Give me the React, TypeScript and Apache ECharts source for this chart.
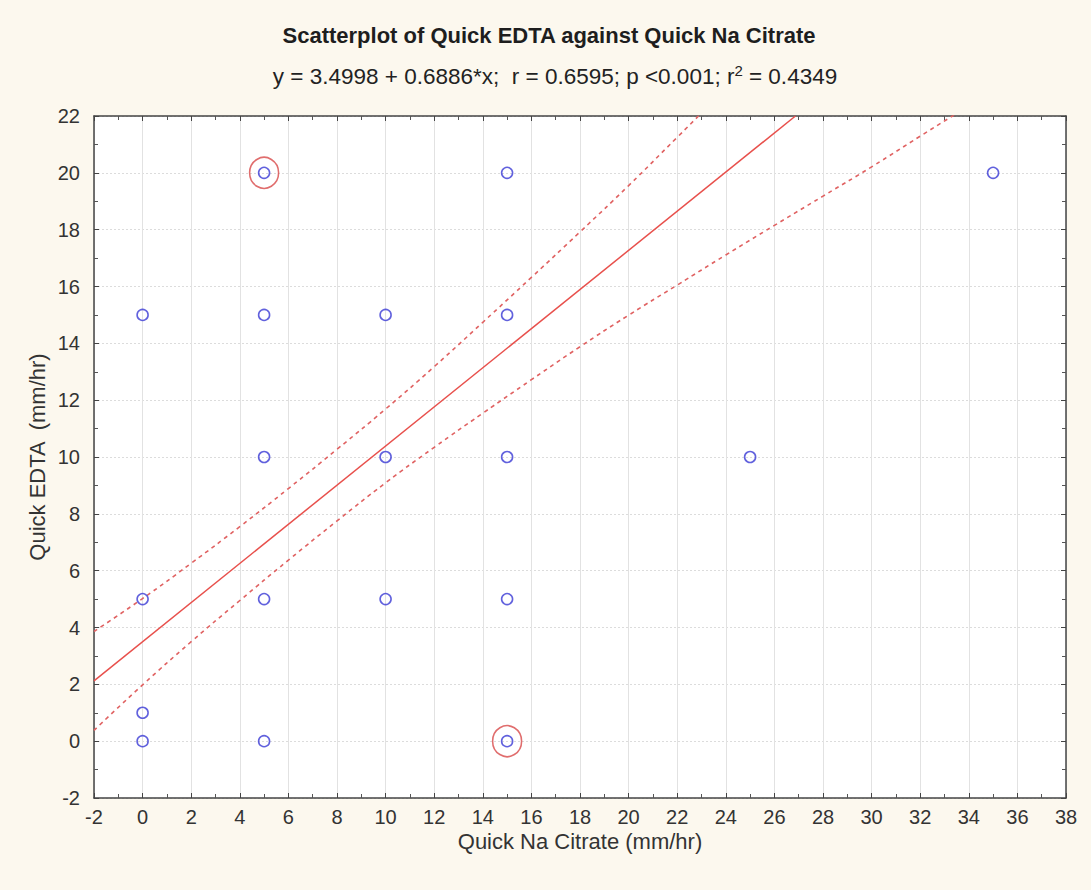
import React, { useEffect, useRef } from "react";
import * as echarts from "echarts";

// Observed pairs (Quick Na Citrate, Quick EDTA), mm/hr
const citrate = [0, 0, 0, 0, 5, 5, 5, 5, 5, 10, 10, 10, 15, 15, 15, 15, 15, 25, 35];
const edta = [0, 1, 5, 15, 0, 5, 10, 15, 20, 5, 10, 15, 0, 5, 10, 15, 20, 10, 20];

// Points circled as outliers
const flaggedX = [5, 15];
const flaggedY = [20, 0];

// Fitted regression y = a + b*x
const intercept = 3.4998;
const slope = 0.6886;

// 95% confidence band for the fitted line
const bandX = [-2, 0, 2, 4, 6, 8, 10, 12, 14, 16, 18, 20, 22, 24, 26, 28, 30, 32, 34];
const bandUpper = [3.86, 5.02, 6.26, 7.55, 8.89, 10.27, 11.69, 13.18, 14.74, 16.32, 17.92, 19.55, 21.25, 22.95, 24.6, 26.3, 28.1, 29.8, 31.5];
const bandLower = [0.38, 1.98, 3.5, 4.95, 6.37, 7.75, 9.09, 10.34, 11.54, 12.72, 13.88, 14.99, 16.05, 17.11, 18.15, 19.18, 20.21, 21.29, 22.36];

const xMin = -2;
const xMax = 38;
const yMin = -2;
const yMax = 22;

const FONT = "Liberation Sans, Arial, sans-serif";

export default function App() {
  const ref = useRef<HTMLDivElement>(null);

  useEffect(() => {
    document.body.style.margin = "0";
    if (!ref.current) return;
    const chart = echarts.init(ref.current, null, { renderer: "svg" });

    const fitEndX = (yMax - intercept) / slope;
    const fitLine = [
      [xMin, intercept + slope * xMin],
      [fitEndX, intercept + slope * fitEndX],
    ];

    const frameLine = { show: true, onZero: false, lineStyle: { color: "#444", width: 1.5 } };
    const innerTicks = { show: true, inside: true, length: 5, lineStyle: { color: "#444", width: 1 } };
    const innerMinor = { show: true, splitNumber: 2, length: 4, lineStyle: { color: "#555", width: 1 } };

    chart.setOption({
      animation: false,
      backgroundColor: "#fcf8ee",
      title: [
        {
          text: "Scatterplot of Quick EDTA against Quick Na Citrate",
          left: 544,
          textAlign: "center",
          top: 19,
          textStyle: { fontFamily: FONT, fontSize: 22, fontWeight: "bold", color: "#1e1e1e" },
        },
        {
          text: "y = 3.4998 + 0.6886*x;  r = 0.6595; p <0.001; r{sup|2} = 0.4349",
          left: 550,
          textAlign: "center",
          top: 58,
          textStyle: {
            fontFamily: FONT,
            fontSize: 22.5,
            fontWeight: "normal",
            color: "#222",
            rich: {
              sup: {
                fontFamily: FONT,
                fontSize: 15,
                fontWeight: "normal",
                color: "#222",
                verticalAlign: "top",
                padding: [0, 0, 11, 0],
              },
            },
          },
        },
      ],
      grid: {
        left: 94,
        right: 25,
        top: 116,
        bottom: 92,
        show: true,
        backgroundColor: "#ffffff",
        borderWidth: 0,
      },
      xAxis: [
        {
          type: "value",
          min: xMin,
          max: xMax,
          interval: 2,
          position: "bottom",
          name: "Quick Na Citrate (mm/hr)",
          nameLocation: "middle",
          nameGap: 32,
          nameMoveOverlap: false,
          nameTextStyle: { fontFamily: FONT, fontSize: 22, color: "#333" },
          axisLine: frameLine,
          axisTick: innerTicks,
          minorTick: innerMinor,
          axisLabel: { fontFamily: FONT, fontSize: 20, color: "#333", margin: 9 },
          splitLine: { show: true, lineStyle: { color: "#e2e2e2", width: 1 } },
        },
        {
          type: "value",
          min: xMin,
          max: xMax,
          interval: 2,
          position: "top",
          axisLine: frameLine,
          axisTick: innerTicks,
          minorTick: innerMinor,
          axisLabel: { show: false },
          splitLine: { show: false },
        },
      ],
      yAxis: [
        {
          type: "value",
          min: yMin,
          max: yMax,
          interval: 2,
          position: "left",
          name: "Quick EDTA  (mm/hr)",
          nameLocation: "middle",
          nameGap: 46,
          nameMoveOverlap: false,
          nameRotate: 90,
          nameTextStyle: { fontFamily: FONT, fontSize: 22, color: "#333" },
          axisLine: frameLine,
          axisTick: innerTicks,
          minorTick: innerMinor,
          axisLabel: { fontFamily: FONT, fontSize: 20, color: "#333", margin: 14 },
          splitLine: { show: true, lineStyle: { color: "#dcdcdc", width: 1, type: [2, 2] } },
        },
        {
          type: "value",
          min: yMin,
          max: yMax,
          interval: 2,
          position: "right",
          axisLine: frameLine,
          axisTick: innerTicks,
          minorTick: innerMinor,
          axisLabel: { show: false },
          splitLine: { show: false },
        },
      ],
      series: [
        {
          name: "upper",
          type: "line",
          data: bandX.map((x, i) => [x, bandUpper[i]]),
          smooth: true,
          showSymbol: false,
          clip: true,
          lineStyle: { color: "#e06262", width: 1.6, type: [4, 4] },
          z: 3,
        },
        {
          name: "lower",
          type: "line",
          data: bandX.map((x, i) => [x, bandLower[i]]),
          smooth: true,
          showSymbol: false,
          clip: true,
          lineStyle: { color: "#e06262", width: 1.6, type: [4, 4] },
          z: 3,
        },
        {
          name: "fit",
          type: "line",
          data: fitLine,
          showSymbol: false,
          clip: true,
          lineStyle: { color: "#e8504c", width: 1.5 },
          z: 4,
        },
        {
          name: "points",
          type: "scatter",
          data: citrate.map((x, i) => [x, edta[i]]),
          symbol: "circle",
          symbolSize: 11,
          itemStyle: { color: "rgba(255,255,255,0)", borderColor: "#3a3ad4", borderWidth: 1.6 },
          z: 5,
        },
        {
          name: "flagged",
          type: "scatter",
          data: flaggedX.map((x, i) => [x, flaggedY[i]]),
          symbol: "circle",
          symbolSize: [29, 31],
          itemStyle: { color: "rgba(255,255,255,0)", borderColor: "#d84848", borderWidth: 1.6 },
          z: 6,
        },
      ],
    });

    return () => chart.dispose();
  }, []);

  return <div ref={ref} style={{ width: 1091, height: 890 }} />;
}
